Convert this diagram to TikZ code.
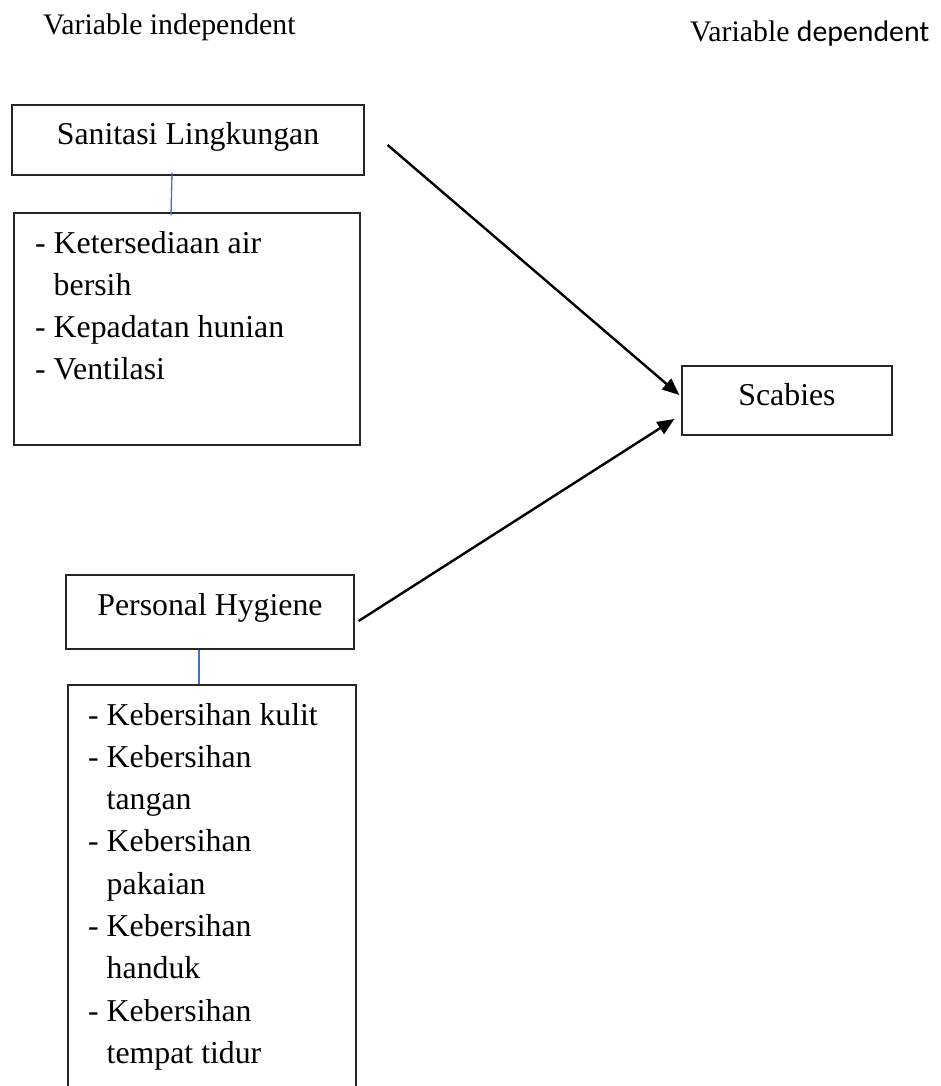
\documentclass[tikz,border=0pt]{standalone}
\usepackage{fontspec}
\setmainfont{Liberation Serif}
\newfontfamily\calibrifont{Carlito}
\usetikzlibrary{arrows.meta}
\definecolor{linkblue}{HTML}{3F6FD0}
\definecolor{boxline}{HTML}{262626}
\newcommand\itemdash{-\ }
\newcommand\itemcont{\hphantom{-}\ }
\tikzset{
  box/.style={draw=boxline, line width=1.2pt, rectangle, inner sep=0pt},
  txt/.style={inner sep=0pt, font=\fontsize{31.8}{42.3}\selectfont},
  hdr/.style={inner sep=0pt, font=\fontsize{29.8}{36}\selectfont, anchor=base west},
  arr/.style={line width=2.4pt, -{Triangle[length=17pt, width=14pt]}},
  link/.style={draw=linkblue, line width=1.3pt}
}
\begin{document}
\begin{tikzpicture}[x=1pt, y=-1pt]
\useasboundingbox (0,0) rectangle (940,1086);
\clip (0,0) rectangle (940,1086);
% headers
\node[hdr] (hind) at (43,35) {Variable independent};
\node[hdr] (hdep) at (690,42) {Variable {\calibrifont dependent}};
% boxes
\node[box, minimum width=352pt, minimum height=70pt] (san) at (188,140) {};
\node[txt, anchor=base] (santxt) at (188,145) {Sanitasi Lingkungan};
\node[box, minimum width=346pt, minimum height=232pt] (list1) at (187,329) {};
\node[txt, anchor=base west] (list1txt) at (35,253) {\parbox[t]{320pt}{\fontsize{31.8}{42.3}\selectfont
\itemdash Ketersediaan air\\
\itemcont bersih\\
\itemdash Kepadatan hunian\\
\itemdash Ventilasi}};
\node[box, minimum width=288pt, minimum height=74pt] (ph) at (210,612) {};
\node[txt, anchor=base] (phtxt) at (210,615) {Personal Hygiene};
\node[box, minimum width=288pt, minimum height=420pt] (list2) at (212,895) {};
\node[txt, anchor=base west] (list2txt) at (88,725) {\parbox[t]{265pt}{\fontsize{31.8}{42.3}\selectfont
\itemdash Kebersihan kulit\\
\itemdash Kebersihan\\
\itemcont tangan\\
\itemdash Kebersihan\\
\itemcont pakaian\\
\itemdash Kebersihan\\
\itemcont handuk\\
\itemdash Kebersihan\\
\itemcont tempat tidur}};
\node[box, minimum width=210pt, minimum height=69pt] (scab) at (787,400.5) {};
\node[txt, anchor=base] (scabtxt) at (787,405) {Scabies};
% blue links
\draw[link] ([shift={(-16,-3)}]san.south) -- ([shift={(-16,3)}]list1.north);
\draw[link] ([shift={(-11,0)}]ph.south) -- ([shift={(-13,0)}]list2.north);
% arrows
\draw[arr] ([shift={(23,5)}]san.east) -- ([shift={(-2,-5.5)}]scab.west);
\draw[arr] ([shift={(4,9)}]ph.east) -- ([shift={(-7,18.5)}]scab.west);
\end{tikzpicture}
\end{document}
